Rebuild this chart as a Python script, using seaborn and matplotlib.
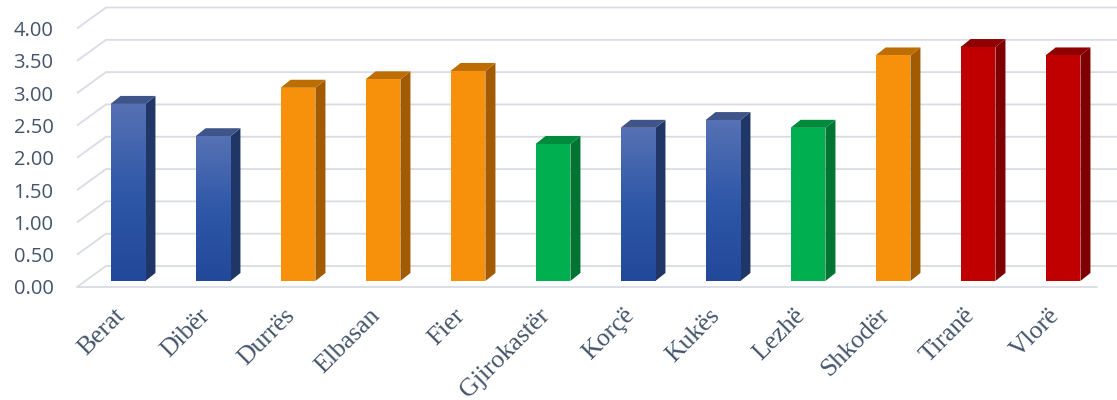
import numpy as np
import matplotlib
matplotlib.use("Agg")
import matplotlib.pyplot as plt
import seaborn as sns
from matplotlib.patches import Polygon
from matplotlib.colors import LinearSegmentedColormap

# data
districts = ["Berat", "Dibër", "Durrës", "Elbasan", "Fier", "Gjirokastër",
             "Korçë", "Kukës", "Lezhë", "Shkodër", "Tiranë", "Vlorë"]
scores = [2.74, 2.24, 2.99, 3.12, 3.25, 2.12, 2.37, 2.49, 2.37, 3.49, 3.62, 3.49]
groups = ["blue", "blue", "orange", "orange", "orange", "green",
          "blue", "blue", "green", "orange", "red", "red"]
y_ticks = [0, 0.5, 1.0, 1.5, 2.0, 2.5, 3.0, 3.5, 4.0]

front = {"blue": "#2c52a2", "orange": "#f7900a", "green": "#00b050", "red": "#c00000"}
side = {"blue": "#1f3666", "orange": "#a25b00", "green": "#007433", "red": "#7f0000"}
top = {"blue": "#3f5488", "orange": "#be6d00", "green": "#008a3c", "red": "#8f0000"}

# fake 3d depth (data units)
FX, FY = 0.341, 0.325      # floor depth
GAP = 0.093                # bar front face sits behind the floor front edge
BX, BY = 0.118, 0.124      # bar depth
XL = (-0.6, 11.4)

sns.set_style("white")
fig = plt.figure(figsize=(11.17, 4), dpi=100)
ax = fig.add_axes([77 / 1117, 113 / 400, 1020 / 1117, 280 / 400])

sns.barplot(x=districts, y=scores, hue=districts,
            palette=[front[g] for g in groups], width=0.41,
            legend=False, ax=ax, zorder=3, saturation=1)

grid_c = "#d9dce4"
# back wall + side wall gridlines
for v in y_ticks:
    ax.plot([XL[0], XL[0] + FX, 11.64], [v - GAP, v - GAP + FY, v - GAP + FY],
            color=grid_c, lw=1.3, zorder=0.5, clip_on=False, solid_capstyle="butt")
# floor front edge
ax.plot(XL, [-GAP, -GAP], color=grid_c, lw=1.3, zorder=0.5, clip_on=False)

blue_cmap = LinearSegmentedColormap.from_list("b", ["#22489a", "#2f58a8", "#5671b4"])
bars = sorted(ax.patches, key=lambda p: p.get_x())
for p, g in zip(bars, groups):
    x0, w, h = p.get_x(), p.get_width(), p.get_height()
    x1 = x0 + w
    p.set_edgecolor("none")
    if g == "blue":
        grad = np.linspace(1, 0, 100).reshape(-1, 1)
        im = ax.imshow(grad, extent=[x0, x1, 0, h], aspect="auto", cmap=blue_cmap,
                       vmin=0, vmax=1, zorder=3.1)
        im.set_clip_path(p)
    ax.add_patch(Polygon([(x1, 0), (x1 + BX, BY), (x1 + BX, h + BY), (x1, h)],
                         closed=True, fc=side[g], ec="none", zorder=2.9))
    ax.add_patch(Polygon([(x0, h), (x0 + BX, h + BY), (x1 + BX, h + BY), (x1, h)],
                         closed=True, fc=top[g], ec="none", zorder=2.9))

ax.set_xlim(*XL)
ax.set_ylim(-GAP, 4.24)
ax.set_yticks([v - GAP for v in y_ticks])
ax.set_yticklabels([f"{v:.2f}" for v in y_ticks], fontsize=14.5,
                   color="#44546a", family="Open Sans")
ax.tick_params(axis="y", length=0, pad=17)

# category labels, slanted like the original
ax.set_xticks(range(len(districts)))
ax.set_xticklabels([])
ax.tick_params(axis="x", length=0)
for i, name in enumerate(districts):
    ax.annotate(name, xy=(i, -GAP), xycoords="data", xytext=(-10.5, -12.5),
                textcoords="offset points", rotation=45, ha="right", va="top",
                rotation_mode="anchor", fontsize=18.5, color="#44546a",
                family="Liberation Serif", annotation_clip=False)

ax.set_xlabel("")
ax.set_ylabel("")
for s in ax.spines.values():
    s.set_visible(False)

fig.savefig("out.png", dpi=100)
